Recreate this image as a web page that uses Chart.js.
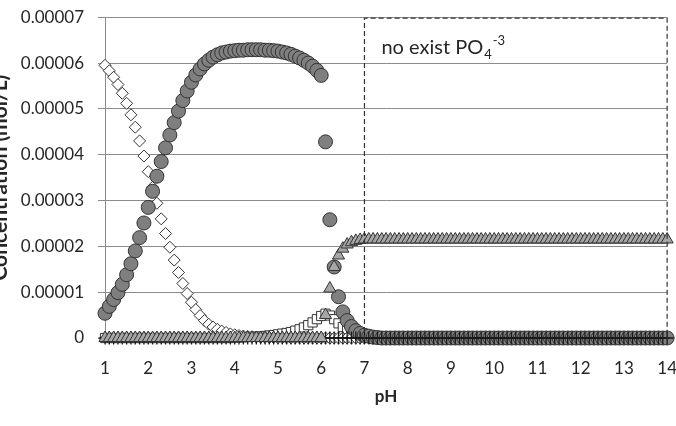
<!DOCTYPE html>
<html>
<head>
<meta charset="utf-8">
<script src="https://cdn.jsdelivr.net/npm/chart.js@4.4.0/dist/chart.umd.min.js"></script>
<style>
  html, body { margin: 0; padding: 0; background: #fff; overflow: hidden; }
  /* shifted so the y title is cut at the left edge, like the original */
  #caja { position: absolute; left: -12px; top: -7px; width: 709px; height: 433px; }
</style>
</head>
<body>
<div id="caja"><canvas id="graficoEspecies"></canvas></div>
<script>
const ph = [
  1, 1.1, 1.2, 1.3, 1.4, 1.5, 1.6, 1.7, 1.8, 1.9,
  2, 2.1, 2.2, 2.3, 2.4, 2.5, 2.6, 2.7, 2.8, 2.9,
  3, 3.1, 3.2, 3.3, 3.4, 3.5, 3.6, 3.7, 3.8, 3.9,
  4, 4.1, 4.2, 4.3, 4.4, 4.5, 4.6, 4.7, 4.8, 4.9,
  5, 5.1, 5.2, 5.3, 5.4, 5.5, 5.6, 5.7, 5.8, 5.9,
  6, 6.1, 6.2, 6.3, 6.4, 6.5, 6.6, 6.7, 6.8, 6.9,
  7, 7.1, 7.2, 7.3, 7.4, 7.5, 7.6, 7.7, 7.8, 7.9,
  8, 8.1, 8.2, 8.3, 8.4, 8.5, 8.6, 8.7, 8.8, 8.9,
  9, 9.1, 9.2, 9.3, 9.4, 9.5, 9.6, 9.7, 9.8, 9.9,
  10, 10.1, 10.2, 10.3, 10.4, 10.5, 10.6, 10.7, 10.8, 10.9,
  11, 11.1, 11.2, 11.3, 11.4, 11.5, 11.6, 11.7, 11.8, 11.9,
  12, 12.1, 12.2, 12.3, 12.4, 12.5, 12.6, 12.7, 12.8, 12.9,
  13, 13.1, 13.2, 13.3, 13.4, 13.5, 13.6, 13.7, 13.8, 13.9,
  14
];

// white diamonds
const h3po4 = [
  5.95e-5, 5.83e-5, 5.69e-5, 5.53e-5, 5.34e-5, 5.12e-5, 4.87e-5, 4.60e-5, 4.30e-5, 3.97e-5,
  3.63e-5, 3.29e-5, 2.94e-5, 2.60e-5, 2.28e-5, 1.98e-5, 1.70e-5, 1.43e-5, 1.19e-5, 0.97e-5,
  0.78e-5, 0.62e-5, 0.49e-5, 0.38e-5, 0.30e-5, 0.24e-5, 0.19e-5, 0.15e-5, 0.12e-5, 0.09e-5,
  0.07e-5, 0.055e-5, 0.045e-5, 0.035e-5, 0.028e-5, 0.022e-5, 0.017e-5, 0.014e-5, 0.011e-5, 0.009e-5,
  0.007e-5, 0.005e-5, 0.004e-5, 0.003e-5, 0.002e-5, 0.002e-5, 0.001e-5, 0.001e-5, 0.001e-5, 0.001e-5,
  0, 0, 0, 0, 0, 0, 0, 0, 0, 0,
  0, 0, 0, 0, 0, 0, 0, 0, 0, 0,
  0, 0, 0, 0, 0, 0, 0, 0, 0, 0,
  0, 0, 0, 0, 0, 0, 0, 0, 0, 0,
  0, 0, 0, 0, 0, 0, 0, 0, 0, 0,
  0, 0, 0, 0, 0, 0, 0, 0, 0, 0,
  0, 0, 0, 0, 0, 0, 0, 0, 0, 0,
  0, 0, 0, 0, 0, 0, 0, 0, 0, 0,
  0
];

// grey circles
const h2po4 = [
  0.54e-5, 0.69e-5, 0.84e-5, 0.99e-5, 1.17e-5, 1.38e-5, 1.62e-5, 1.90e-5, 2.19e-5, 2.51e-5,
  2.85e-5, 3.20e-5, 3.53e-5, 3.85e-5, 4.15e-5, 4.43e-5, 4.70e-5, 4.95e-5, 5.18e-5, 5.39e-5,
  5.58e-5, 5.74e-5, 5.87e-5, 5.98e-5, 6.06e-5, 6.13e-5, 6.18e-5, 6.22e-5, 6.24e-5, 6.26e-5,
  6.27e-5, 6.28e-5, 6.28e-5, 6.29e-5, 6.29e-5, 6.29e-5, 6.29e-5, 6.28e-5, 6.28e-5, 6.27e-5,
  6.26e-5, 6.24e-5, 6.22e-5, 6.19e-5, 6.15e-5, 6.11e-5, 6.06e-5, 6.00e-5, 5.93e-5, 5.84e-5,
  5.73e-5, 4.28e-5, 2.58e-5, 1.55e-5, 0.90e-5, 0.57e-5, 0.38e-5, 0.25e-5, 0.16e-5, 0.10e-5,
  0.06e-5, 0.04e-5, 0.02e-5, 0.01e-5, 0, 0, 0, 0, 0, 0,
  0, 0, 0, 0, 0, 0, 0, 0, 0, 0,
  0, 0, 0, 0, 0, 0, 0, 0, 0, 0,
  0, 0, 0, 0, 0, 0, 0, 0, 0, 0,
  0, 0, 0, 0, 0, 0, 0, 0, 0, 0,
  0, 0, 0, 0, 0, 0, 0, 0, 0, 0,
  0, 0, 0, 0, 0, 0, 0, 0, 0, 0,
  0
];

// white squares
const hpo4 = [
  0, 0, 0, 0, 0, 0, 0, 0, 0, 0,
  0, 0, 0, 0, 0, 0, 0, 0, 0, 0,
  0, 0, 0, 0, 0, 0, 0, 0, 0, 0,
  0.01e-5, 0.01e-5, 0.015e-5, 0.02e-5, 0.025e-5, 0.03e-5, 0.035e-5, 0.045e-5, 0.055e-5, 0.065e-5,
  0.08e-5, 0.095e-5, 0.11e-5, 0.13e-5, 0.16e-5, 0.19e-5, 0.23e-5, 0.28e-5, 0.34e-5, 0.41e-5,
  0.48e-5, 0.53e-5, 0.49e-5, 0.41e-5, 0.32e-5, 0.24e-5, 0.17e-5, 0.11e-5, 0.07e-5, 0.04e-5,
  0.02e-5, 0.01e-5, 0, 0, 0, 0, 0, 0, 0, 0,
  0, 0, 0, 0, 0, 0, 0, 0, 0, 0,
  0, 0, 0, 0, 0, 0, 0, 0, 0, 0,
  0, 0, 0, 0, 0, 0, 0, 0, 0, 0,
  0, 0, 0, 0, 0, 0, 0, 0, 0, 0,
  0, 0, 0, 0, 0, 0, 0, 0, 0, 0,
  0, 0, 0, 0, 0, 0, 0, 0, 0, 0,
  0
];

// crosses, always 0
const po4 = [
  0, 0, 0, 0, 0, 0, 0, 0, 0, 0,
  0, 0, 0, 0, 0, 0, 0, 0, 0, 0,
  0, 0, 0, 0, 0, 0, 0, 0, 0, 0,
  0, 0, 0, 0, 0, 0, 0, 0, 0, 0,
  0, 0, 0, 0, 0, 0, 0, 0, 0, 0,
  0, 0, 0, 0, 0, 0, 0, 0, 0, 0,
  0, 0, 0, 0, 0, 0, 0, 0, 0, 0,
  0, 0, 0, 0, 0, 0, 0, 0, 0, 0,
  0, 0, 0, 0, 0, 0, 0, 0, 0, 0,
  0, 0, 0, 0, 0, 0, 0, 0, 0, 0,
  0, 0, 0, 0, 0, 0, 0, 0, 0, 0,
  0, 0, 0, 0, 0, 0, 0, 0, 0, 0,
  0, 0, 0, 0, 0, 0, 0, 0, 0, 0,
  0
];

// grey triangles
const solido = [
  0, 0, 0, 0, 0, 0, 0, 0, 0, 0,
  0, 0, 0, 0, 0, 0, 0, 0, 0, 0,
  0, 0, 0, 0, 0, 0, 0, 0, 0, 0,
  0, 0, 0, 0, 0, 0, 0, 0, 0, 0,
  0, 0, 0, 0, 0, 0, 0, 0, 0, 0,
  0, 0.5e-5, 1.08e-5, 1.55e-5, 1.8e-5, 1.95e-5, 2.04e-5, 2.09e-5, 2.12e-5, 2.14e-5,
  2.15e-5, 2.15e-5, 2.15e-5, 2.15e-5, 2.15e-5, 2.15e-5, 2.15e-5, 2.15e-5, 2.15e-5, 2.15e-5,
  2.15e-5, 2.15e-5, 2.15e-5, 2.15e-5, 2.15e-5, 2.15e-5, 2.15e-5, 2.15e-5, 2.15e-5, 2.15e-5,
  2.15e-5, 2.15e-5, 2.15e-5, 2.15e-5, 2.15e-5, 2.15e-5, 2.15e-5, 2.15e-5, 2.15e-5, 2.15e-5,
  2.15e-5, 2.15e-5, 2.15e-5, 2.15e-5, 2.15e-5, 2.15e-5, 2.15e-5, 2.15e-5, 2.15e-5, 2.15e-5,
  2.15e-5, 2.15e-5, 2.15e-5, 2.15e-5, 2.15e-5, 2.15e-5, 2.15e-5, 2.15e-5, 2.15e-5, 2.15e-5,
  2.15e-5, 2.15e-5, 2.15e-5, 2.15e-5, 2.15e-5, 2.15e-5, 2.15e-5, 2.15e-5, 2.15e-5, 2.15e-5,
  2.15e-5, 2.15e-5, 2.15e-5, 2.15e-5, 2.15e-5, 2.15e-5, 2.15e-5, 2.15e-5, 2.15e-5, 2.15e-5,
  2.15e-5
];

// dashed box "no exist PO4-3"
const cajaDesde = 7;
const cajaHasta = 14;

const texto = '#262626';
const rejilla = '#8c8c8c';
const borde = '#333333';

const puntos = (valores) => ph.map((x, i) => ({ x: x, y: valores[i] }));

const cajaNota = {
  id: 'cajaNota',
  afterDatasetsDraw(chart) {
    const { ctx, scales: { x, y } } = chart;
    const izq = x.getPixelForValue(cajaDesde);
    const der = x.getPixelForValue(cajaHasta);
    const arriba = y.getPixelForValue(y.max) + 1;
    const abajo = y.getPixelForValue(0) + 2;
    ctx.save();
    ctx.setLineDash([5, 3]);
    ctx.strokeStyle = borde;
    ctx.lineWidth = 1.2;
    ctx.beginPath();
    ctx.moveTo(izq, abajo);
    ctx.lineTo(izq, arriba);
    ctx.lineTo(der, arriba);
    ctx.lineTo(der, abajo);
    ctx.stroke();
    ctx.setLineDash([]);
    ctx.fillStyle = texto;
    ctx.textBaseline = 'alphabetic';
    let tx = izq + 17;
    const ty = arriba + 36;
    ctx.font = '20px Lato';
    ctx.fillText('no exist PO', tx, ty);
    tx += ctx.measureText('no exist PO').width + 1;
    ctx.font = '13px Lato';
    ctx.fillText('4', tx, ty + 5);
    tx += ctx.measureText('4').width + 1;
    ctx.fillText('-3', tx, ty - 9);
    ctx.restore();
  }
};

const graficoEspecies = document.getElementById('graficoEspecies').getContext('2d');

new Chart(graficoEspecies, {
  type: 'scatter',
  data: {
    datasets: [
      {
        label: 'triangles',
        data: puntos(solido),
        pointStyle: 'triangle',
        pointRadius: 7,
        pointBackgroundColor: '#a6a6a6',
        pointBorderColor: borde,
        pointBorderWidth: 1,
        clip: false
      },
      {
        label: 'PO4',
        data: puntos(po4),
        pointStyle: 'cross',
        pointRadius: 6.5,
        pointBorderColor: '#1a1a1a',
        pointBorderWidth: 1.3,
        clip: false
      },
      {
        label: 'H2PO4',
        data: puntos(h2po4),
        pointStyle: 'circle',
        pointRadius: 7,
        pointBackgroundColor: '#7f7f7f',
        pointBorderColor: borde,
        pointBorderWidth: 1,
        clip: false
      },
      {
        label: 'H3PO4',
        data: puntos(h3po4),
        pointStyle: 'rectRot',
        pointRadius: 6,
        pointBackgroundColor: '#ffffff',
        pointBorderColor: borde,
        pointBorderWidth: 1,
        clip: false
      },
      {
        label: 'HPO4',
        data: puntos(hpo4),
        pointStyle: 'rect',
        pointRadius: 6.5,
        pointBackgroundColor: '#ffffff',
        pointBorderColor: borde,
        pointBorderWidth: 1,
        clip: false
      }
    ]
  },
  options: {
    responsive: true,
    maintainAspectRatio: false,
    animation: false,
    layout: {
      autoPadding: false,
      padding: { top: 17, right: 9, bottom: 19, left: 0 }
    },
    scales: {
      x: {
        type: 'linear',
        min: 1,
        max: 14,
        afterFit: (s) => { s.height = 69; },
        ticks: {
          stepSize: 1,
          padding: 20,
          color: texto,
          font: { family: 'Lato', size: 17 }
        },
        grid: { display: false, drawTicks: false },
        border: { display: true, color: rejilla },
        title: {
          display: true,
          text: 'pH',
          color: texto,
          padding: { top: 0, bottom: 0 },
          font: { family: 'Lato', size: 17, weight: 'bold' }
        }
      },
      y: {
        min: 0,
        max: 0.00007,
        afterFit: (s) => { s.width = 117; },
        ticks: {
          stepSize: 0.00001,
          padding: 14,
          color: texto,
          font: { family: 'Lato', size: 17 },
          callback: (v) => v === 0 ? '0' : v.toFixed(5)
        },
        grid: { color: rejilla, tickLength: 7 },
        border: { color: rejilla },
        title: {
          display: true,
          text: 'Concentration (mol/L)',
          color: texto,
          padding: { top: 0, bottom: 0 },
          font: { family: 'Lato', size: 21, weight: 'bold' }
        }
      }
    },
    plugins: {
      legend: { display: false },
      tooltip: { enabled: false }
    }
  },
  plugins: [cajaNota]
});
</script>
</body>
</html>
